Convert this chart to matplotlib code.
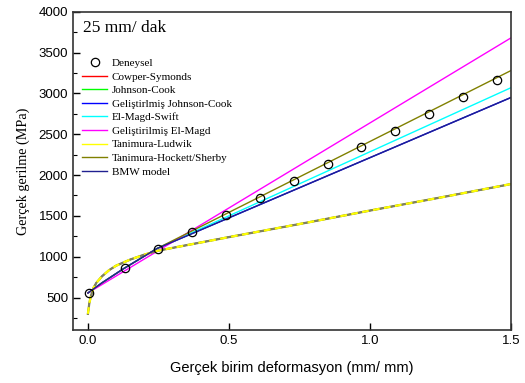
import matplotlib
matplotlib.use("Agg")
import matplotlib.pyplot as plt
import numpy as np

# ----------- DATA -----------
exp_x = [0.005, 0.13, 0.25, 0.37, 0.49, 0.61, 0.73, 0.85, 0.97, 1.09, 1.21, 1.33, 1.45]
exp_y = [555, 860, 1100, 1300, 1510, 1715, 1925, 2130, 2340, 2545, 2750, 2960, 3165]

# saturating models (Cowper-Symonds / Johnson-Cook / Tanimura-Ludwik overlap)
sat_x = [0.0, 0.005, 0.01, 0.02, 0.03, 0.05, 0.075, 0.1, 0.15, 0.2, 0.25, 0.5, 0.75, 1.0, 1.25, 1.5]
sat_y = [300, 430, 510, 620, 680, 760, 835, 890, 965, 1025, 1075, 1240, 1400, 1565, 1725, 1890]

lin_x = [0.0, 0.05, 0.125, 0.245, 1.5]
navy_y = [555, 680, 850, 1100, 2950]
cyan_y = [555, 680, 850, 1100, 3070]
olive_y = [555, 680, 850, 1100, 3280]
mag_x = [0.0, 1.5]
mag_y = [555, 3680]

plt.rcParams["font.family"] = ["Liberation Sans", "DejaVu Sans"]
SERIF = ["Liberation Serif", "DejaVu Serif"]

fig = plt.figure(figsize=(5.25, 3.83), dpi=100)
ax = fig.add_axes([0.139, 0.138, 0.834, 0.831])

ax.plot(sat_x, sat_y, color="red", lw=1.0, label="Cowper-Symonds")
ax.plot(sat_x, sat_y, color="#00ff00", lw=1.0, label="Johnson-Cook")
ax.plot(lin_x, navy_y, color="#0000ff", lw=1.0, label="Geliştirlmiş Johnson-Cook")
ax.plot(lin_x, cyan_y, color="#00ffff", lw=1.0, label="El-Magd-Swift")
ax.plot(mag_x, mag_y, color="#ff00ff", lw=1.0, label="Geliştirilmiş El-Magd")
ax.plot(sat_x, sat_y, color="#808060", lw=1.6)
ax.plot(sat_x, sat_y, color="#ffff00", lw=1.6, ls=(0, (3, 2)))
ax.plot([], [], color="#ffff00", lw=1.0, label="Tanimura-Ludwik")
ax.plot(lin_x, olive_y, color="#808000", lw=1.0, label="Tanimura-Hockett/Sherby")
ax.plot(lin_x, navy_y, color="#202090", lw=1.0, label="BMW model")
ax.plot(exp_x, exp_y, ls="none", marker="o", ms=6, mfc="none", mec="black", mew=0.9,
        label="Deneysel")

handles, labels = ax.get_legend_handles_labels()
order = [len(handles) - 1] + list(range(len(handles) - 1))
ax.legend([handles[i] for i in order], [labels[i] for i in order],
          loc="upper left", bbox_to_anchor=(0.005, 0.875), frameon=False,
          prop={"family": SERIF, "size": 8}, labelspacing=0.34,
          handlelength=2.3, handletextpad=0.4, borderaxespad=0.2)

ax.text(0.022, 0.975, "25 mm/ dak", transform=ax.transAxes, ha="left", va="top",
        family=SERIF, fontsize=12.5)

ax.set_xlim(-0.053, 1.5)
ax.set_ylim(100, 4000)
ax.set_xticks([0.0, 0.5, 1.0, 1.5])
ax.set_yticks(range(500, 4001, 500))
ax.set_yticks(range(250, 4000, 500), minor=True)
ax.tick_params(direction="in", labelsize=9.5, length=5, width=1.0, top=False, right=False)
ax.tick_params(which="minor", direction="in", length=3, width=0.8)
for s in ax.spines.values():
    s.set_linewidth(1.2)
    s.set_color("#333333")

ax.set_xlabel("Gerçek birim deformasyon (mm/ mm)", fontsize=10.5, labelpad=10)
ax.set_ylabel("Gerçek gerilme (MPa)", family=SERIF, fontsize=10.2, labelpad=6)

fig.savefig("out.png", dpi=100)
